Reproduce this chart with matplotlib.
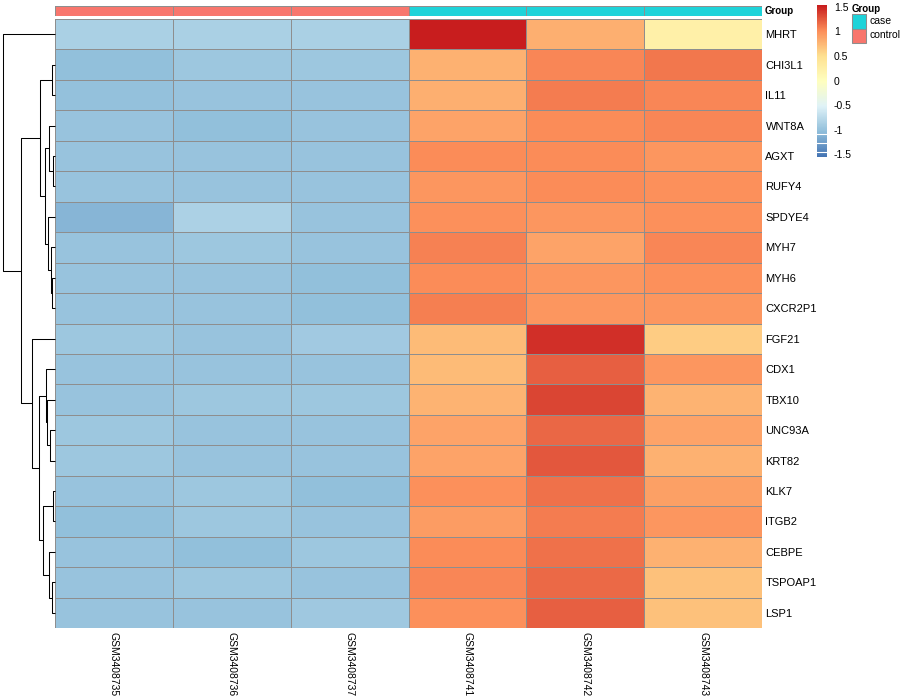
import matplotlib
matplotlib.use('Agg')
import matplotlib.pyplot as plt
import numpy as np
from matplotlib.colors import LinearSegmentedColormap, ListedColormap, Normalize
from matplotlib.patches import Rectangle

plt.rcParams['font.family'] = ['Liberation Sans', 'DejaVu Sans']

genes = ['MHRT', 'CHI3L1', 'IL11', 'WNT8A', 'AGXT', 'RUFY4', 'SPDYE4', 'MYH7', 'MYH6', 'CXCR2P1',
         'FGF21', 'CDX1', 'TBX10', 'UNC93A', 'KRT82', 'KLK7', 'ITGB2', 'CEBPE', 'TSPOAP1', 'LSP1']
samples = ['GSM3408735', 'GSM3408736', 'GSM3408737', 'GSM3408741', 'GSM3408742', 'GSM3408743']
groups = ['control', 'control', 'control', 'case', 'case', 'case']

# row z-scores
control_vals = [
    [-0.88, -0.88, -0.88],
    [-1.03, -0.96, -0.96],
    [-1.02, -1.00, -1.00],
    [-1.00, -1.03, -1.00],
    [-1.00, -1.00, -1.00],
    [-1.00, -1.00, -1.00],
    [-1.10, -0.86, -1.00],
    [-1.00, -0.96, -1.00],
    [-1.00, -1.00, -1.03],
    [-1.00, -1.00, -1.03],
    [-0.96, -1.00, -0.94],
    [-1.00, -1.00, -1.00],
    [-1.00, -0.96, -0.96],
    [-0.96, -1.00, -1.00],
    [-0.96, -1.00, -1.00],
    [-1.00, -0.96, -1.03],
    [-1.03, -0.96, -1.00],
    [-1.00, -1.03, -0.96],
    [-1.00, -0.96, -1.00],
    [-1.00, -1.00, -0.95],
]
case_vals = [
    [1.54, 0.81, 0.24],
    [0.80, 1.05, 1.12],
    [0.81, 1.10, 1.05],
    [0.88, 1.03, 1.05],
    [1.02, 1.02, 0.97],
    [0.97, 1.02, 1.00],
    [1.00, 0.96, 1.00],
    [1.07, 0.88, 1.05],
    [1.02, 0.96, 1.00],
    [1.08, 0.96, 0.96],
    [0.74, 1.45, 0.63],
    [0.74, 1.23, 0.97],
    [0.78, 1.35, 0.78],
    [0.88, 1.20, 0.88],
    [0.88, 1.27, 0.80],
    [1.00, 1.15, 0.90],
    [0.93, 1.10, 0.97],
    [1.03, 1.15, 0.80],
    [1.05, 1.18, 0.70],
    [1.00, 1.23, 0.70],
]

# row dendrogram: (left, right, height); leaves 0..19, new nodes numbered from 20
row_merges = [
    (1, 2, 3.3),      # 20
    (4, 5, 1.7),      # 21
    (3, 21, 5.7),     # 22
    (8, 9, 3.3),      # 23
    (7, 23, 4.3),     # 24
    (6, 24, 6.7),     # 25
    (22, 25, 10.0),   # 26
    (20, 26, 14.7),   # 27
    (13, 14, 5.0),    # 28
    (12, 28, 8.3),    # 29
    (11, 29, 9.0),    # 30
    (15, 16, 2.3),    # 31
    (18, 19, 3.3),    # 32
    (17, 32, 5.7),    # 33
    (31, 33, 12.3),   # 34
    (30, 34, 15.7),   # 35
    (10, 35, 23.0),   # 36
    (27, 36, 34.3),   # 37
    (0, 37, 52.0),    # 38
]

vmin, vmax = -1.56, 1.54
legend_ticks = [-1.5, -1, -0.5, 0, 0.5, 1, 1.5]
legend_gaps = [-1.09, -1.28, -1.46]

palette = ['#4575B4', '#91BFDB', '#E0F3F8', '#FFFFBF', '#FEE090', '#FC8D59', '#C81D1E']
cmap = LinearSegmentedColormap.from_list('rdylbu', palette, N=256)
norm = Normalize(vmin=vmin, vmax=vmax)
group_colors = {'case': '#1ED3D9', 'control': '#F8766D'}
border = '#8E8E8E'

W, H = 900, 700


def px(x0, y0, x1, y1):
    return [x0 / W, 1 - y1 / H, (x1 - x0) / W, (y1 - y0) / H]


fig = plt.figure(figsize=(9, 7), dpi=100)

# heatmap
data = np.hstack([np.array(control_vals), np.array(case_vals)])
ax = fig.add_axes(px(55, 19, 762, 628))
mesh = ax.pcolormesh(data, cmap=cmap, norm=norm, edgecolors=border, linewidth=0.72)
mesh.set_snap(True)
ax.set_xlim(0, len(samples))
ax.set_ylim(len(genes), 0)
for s in ax.spines.values():
    s.set_visible(False)
ax.yaxis.tick_right()
ax.set_yticks(np.arange(len(genes)) + 0.5)
ax.set_yticklabels(genes, fontsize=8)
ax.set_xticks(np.arange(len(samples)) + 0.5)
ax.set_xticklabels(samples, fontsize=7.5, rotation=270, va='top', ha='center')
ax.tick_params(axis='y', length=0, pad=2.5)
ax.tick_params(axis='x', length=0, pad=3)

# annotation bar
ax_a = fig.add_axes(px(55, 6, 762, 16))
codes = np.array([[0 if g == 'control' else 1 for g in groups]])
bar = ax_a.pcolormesh(codes, cmap=ListedColormap([group_colors['control'], group_colors['case']]),
                      vmin=0, vmax=1, edgecolors=border, linewidth=0.72)
bar.set_snap(True)
ax_a.set_xlim(0, len(samples))
ax_a.set_ylim(1, 0)
ax_a.axis('off')
ax_a.text(1.004, 0.5, 'Group', transform=ax_a.transAxes, fontsize=7, fontweight='bold',
          va='center', ha='left')

# row dendrogram
ax_d = fig.add_axes(px(3, 19, 55, 628))
pos = {i: (0.0, i + 0.5) for i in range(len(genes))}
for k, (a, b, h) in enumerate(row_merges):
    ha_, ya = pos[a]
    hb, yb = pos[b]
    ax_d.plot([ha_, h, h, hb], [ya, ya, yb, yb], color='black', lw=0.75, clip_on=False,
              solid_capstyle='butt')
    pos[len(genes) + k] = (h, (ya + yb) / 2)
ax_d.set_xlim(row_merges[-1][2], 0)
ax_d.set_ylim(len(genes), 0)
ax_d.axis('off')

# colour legend
ax_c = fig.add_axes(px(817, 5, 827, 157))
grad = np.linspace(vmax, vmin, 300).reshape(-1, 1)
ax_c.imshow(grad, cmap=cmap, norm=norm, aspect='auto', extent=[0, 1, vmin, vmax])
for g in legend_gaps:
    ax_c.axhline(g, color='white', lw=0.8)
ax_c.set_ylim(vmin, vmax)
ax_c.set_xticks([])
ax_c.yaxis.tick_right()
ax_c.set_yticks(legend_ticks)
ax_c.set_yticklabels([f'{t:g}' for t in legend_ticks], fontsize=7.5)
ax_c.tick_params(length=0, pad=5)
for s in ax_c.spines.values():
    s.set_visible(False)

# group legend
ax_l = fig.add_axes(px(850, 0, 900, 60))
ax_l.set_xlim(0, 50)
ax_l.set_ylim(60, 0)
ax_l.axis('off')
ax_l.text(2, 9, 'Group', fontsize=7, fontweight='bold', va='center', ha='left')
for i, g in enumerate(['case', 'control']):
    ax_l.add_patch(Rectangle((2, 14 + 14.5 * i), 14, 14.5, facecolor=group_colors[g],
                             edgecolor=border, lw=0.75))
    ax_l.text(19, 21 + 14.5 * i, g, fontsize=7.5, va='center', ha='left')

fig.savefig('out.png', dpi=100)
